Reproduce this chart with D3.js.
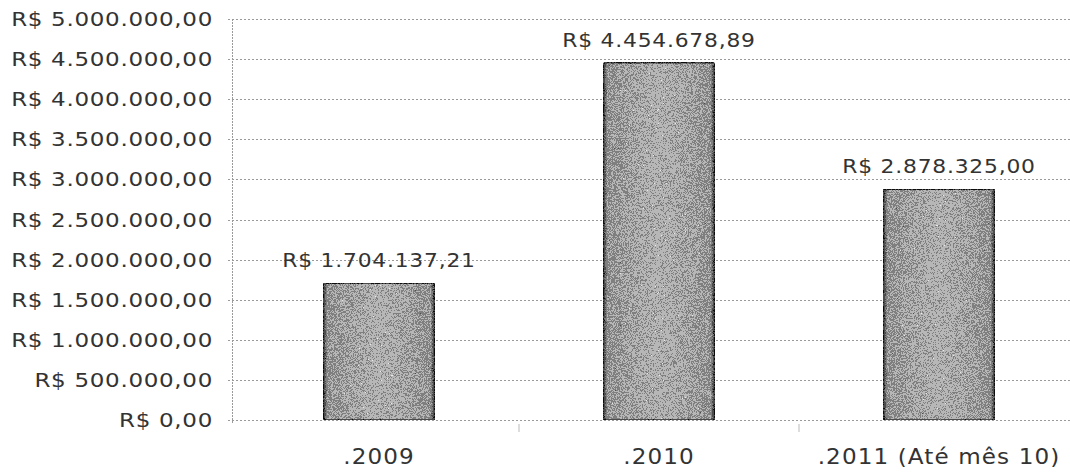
<!DOCTYPE html>
<html>
<head>
<meta charset="utf-8">
<script src="https://cdn.jsdelivr.net/npm/d3@7"></script>
<style>
  body { margin: 0; background: #fff; }
  svg { display: block; }
  text { font-family: "DejaVu Sans", Verdana, sans-serif; fill: #333; }
</style>
</head>
<body>
<div id="chart"></div>
<script>
const categories = ['.2009', '.2010', '.2011 (Até mês 10)'];
const values = [1704137.21, 4454678.89, 2878325.00];
const yTicks = [0, 500000, 1000000, 1500000, 2000000, 2500000, 3000000, 3500000, 4000000, 4500000, 5000000];

const width = 1070, height = 473;
const plot = { left: 232, right: 1070, top: 19, bottom: 420 };

const ptBR = d3.formatLocale({
    decimal: ',',
    thousands: '.',
    grouping: [3],
    currency: ['R$ ', '']
});
const money = ptBR.format('$,.2f');

const svg = d3.select('#chart')
    .append('svg')
    .attr('width', width)
    .attr('height', height);

// grainy grey fill, like the scanned original
const defs = svg.append('defs');
const grad = defs.append('linearGradient')
    .attr('id', 'barGrad')
    .attr('x1', '0').attr('x2', '1').attr('y1', '0').attr('y2', '0');
grad.append('stop').attr('offset', '0%').attr('stop-color', '#2a2a2a');
grad.append('stop').attr('offset', '4%').attr('stop-color', '#959595');
grad.append('stop').attr('offset', '50%').attr('stop-color', '#a6a6a6');
grad.append('stop').attr('offset', '96%').attr('stop-color', '#959595');
grad.append('stop').attr('offset', '100%').attr('stop-color', '#2a2a2a');

const filt = defs.append('filter').attr('id', 'grain')
    .attr('x', 0).attr('y', 0).attr('width', 1).attr('height', 1)
    .attr('color-interpolation-filters', 'sRGB');
filt.append('feTurbulence')
    .attr('type', 'fractalNoise')
    .attr('baseFrequency', 1.4)
    .attr('numOctaves', 1)
    .attr('seed', 4)
    .attr('result', 'noise');
filt.append('feColorMatrix')
    .attr('in', 'noise')
    .attr('type', 'matrix')
    .attr('values', '0.33 0.33 0.33 0 0  0.33 0.33 0.33 0 0  0.33 0.33 0.33 0 0  0 0 0 0 1')
    .attr('result', 'gnoise');
filt.append('feComposite')
    .attr('in', 'SourceGraphic')
    .attr('in2', 'gnoise')
    .attr('operator', 'arithmetic')
    .attr('k1', 0).attr('k2', 1).attr('k3', 1.0).attr('k4', -0.5)
    .attr('result', 'mix');
filt.append('feComponentTransfer')
    .attr('in', 'mix')
    .attr('result', 'post')
    .call(ct => {
        ['feFuncR', 'feFuncG', 'feFuncB'].forEach(f =>
            ct.append(f).attr('type', 'discrete').attr('tableValues', '0.05 0.3 0.5 0.72 0.92'));
    });
filt.append('feComposite')
    .attr('in', 'post')
    .attr('in2', 'SourceGraphic')
    .attr('operator', 'in');

const y = d3.scaleLinear()
    .domain([0, 5000000])
    .range([plot.bottom, plot.top]);

const x = d3.scaleBand()
    .domain(categories)
    .range([plot.left, 1086])
    .paddingInner(0.6)
    .paddingOuter(0.325);

// wide-looking text: stretch glyphs horizontally
function label(g, tx, ty, sx) {
    g.attr('transform', (d, i) => `translate(${tx(d, i)},${ty(d, i)}) scale(${sx},1)`);
}

// gridlines
svg.append('g')
    .selectAll('line')
    .data(yTicks)
    .join('line')
    .attr('x1', plot.left - 4)
    .attr('x2', plot.right)
    .attr('y1', d => Math.round(y(d)) + 0.5)
    .attr('y2', d => Math.round(y(d)) + 0.5)
    .attr('stroke', '#9a9a9a')
    .attr('stroke-width', 1)
    .attr('stroke-dasharray', '2,2');

// y axis line
svg.append('line')
    .attr('x1', plot.left + 0.5).attr('x2', plot.left + 0.5)
    .attr('y1', plot.top).attr('y2', plot.bottom + 4)
    .attr('stroke', '#9a9a9a')
    .attr('stroke-dasharray', '2,1');

// y tick labels
svg.append('g')
    .selectAll('text')
    .data(yTicks)
    .join('text')
    .call(label, () => 213, d => y(d) + 7, 1.15)
    .attr('text-anchor', 'end')
    .attr('font-size', 20)
    .attr('letter-spacing', 0.6)
    .text(d => money(d));

// small category separators on the baseline
svg.append('g')
    .selectAll('line')
    .data(categories.slice(1))
    .join('line')
    .attr('x1', d => x(d) - x.step() * x.paddingInner() / 2)
    .attr('x2', d => x(d) - x.step() * x.paddingInner() / 2)
    .attr('y1', plot.bottom + 4)
    .attr('y2', plot.bottom + 12)
    .attr('stroke', '#bbb');

// bars
svg.append('g')
    .selectAll('rect')
    .data(values)
    .join('rect')
    .attr('x', (d, i) => x(categories[i]))
    .attr('y', d => y(d))
    .attr('width', x.bandwidth())
    .attr('height', d => y(0) - y(d))
    .attr('rx', 3)
    .attr('fill', 'url(#barGrad)')
    .attr('stroke', '#333')
    .attr('stroke-width', 1.5)
    .attr('filter', 'url(#grain)');

// value labels
svg.append('g')
    .selectAll('text')
    .data(values)
    .join('text')
    .call(label, (d, i) => x(categories[i]) + x.bandwidth() / 2, d => y(d) - 16, 1.12)
    .attr('text-anchor', 'middle')
    .attr('font-size', 19.5)
    .attr('letter-spacing', 0.7)
    .text(d => money(d));

// category labels
svg.append('g')
    .selectAll('text')
    .data(categories)
    .join('text')
    .call(label, d => x(d) + x.bandwidth() / 2, () => 464, 1.1)
    .attr('text-anchor', 'middle')
    .attr('font-size', 21)
    .attr('letter-spacing', 1)
    .text(d => d);
</script>
</body>
</html>
